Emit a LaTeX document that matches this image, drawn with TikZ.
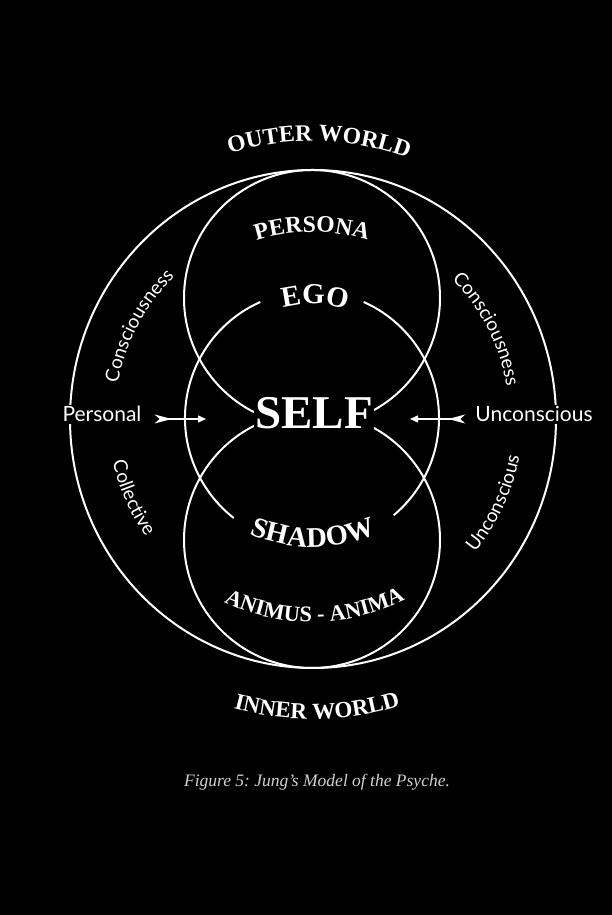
\documentclass[tikz,border=0pt]{standalone}
\usepackage{fontspec}
\setmainfont{Liberation Serif}
\newfontfamily\gillfont{Lato}
\usetikzlibrary{arrows.meta,decorations.text}
\frenchspacing

\newcommand\worldfont{\bfseries\fontsize{23.6}{23.6}\selectfont}
\newcommand\egofont{\bfseries\fontsize{29}{29}\selectfont}
\newcommand\sidefont{\gillfont\fontsize{19}{19}\selectfont}

\begin{document}
\begin{tikzpicture}[x=1pt, y=1pt,
  ring/.style={draw=white, line width=2pt},
  arctext/.style={decorate, decoration={text along path, text align=center,
    text color=white, text={#1}}},
  side/.style={fill=black, text=white, inner sep=2pt,
    font=\gillfont\fontsize{21}{21}\selectfont},
  fletch/.style={white, line width=1.4pt,
    {Stealth[reversed, length=17pt, width=9pt, inset=5pt]}-{Triangle[length=8pt, width=7pt]}}]
  \fill[black] (0,0) rectangle (612,915);
  \useasboundingbox (0,0) rectangle (612,915);

  \coordinate (hub) at (312,497);
  \coordinate (rim) at (313,496);
  \coordinate (top) at (312,617);
  \coordinate (bot) at (312,375);
  \coordinate (shadowhub) at (313,528);

  % circles
  \draw[ring] (rim) ellipse[x radius=243pt, y radius=249pt];
  \draw[ring] (top) circle[radius=128pt];
  \draw[ring] (bot) circle[radius=128pt];
  \draw[ring] ([shift={(114:127pt)}]hub) arc[start angle=114, end angle=232, radius=127pt];
  \draw[ring] ([shift={(-50:127pt)}]hub) arc[start angle=-50, end angle=66, radius=127pt];

  % curved labels
  \path[arctext={|\worldfont|OUTER WORLD}]
    ([shift={(118.5:277pt)}]hub) arc[start angle=118.5, end angle=58.5, radius=277pt];
  \path[arctext={|\worldfont|PERSONA}]
    ([shift={(120:186pt)}]hub) arc[start angle=120, end angle=60, radius=186pt];
  \path[arctext={|\egofont|EGO}]
    ([shift={(118.5:114pt)}]hub) arc[start angle=118.5, end angle=58.5, radius=114pt];
  \path[arctext={|\bfseries\fontsize{28.5}{28.5}\selectfont|SHADOW}]
    ([shift={(240:160pt)}]shadowhub) arc[start angle=240, end angle=300, radius=160pt];
  \path[arctext={|\bfseries\fontsize{22.4}{22.4}\selectfont|ANIMUS - ANIMA}]
    ([shift={(230.8:204pt)}]hub) arc[start angle=230.8, end angle=310.8, radius=204pt];
  \path[arctext={|\bfseries\fontsize{23}{23}\selectfont|INNER WORLD}]
    ([shift={(246:301pt)}]hub) arc[start angle=246, end angle=296, radius=301pt];

  \path[arctext={|\sidefont|Consciousness}]
    ([shift={(182:197pt)}]hub) arc[start angle=182, end angle=122, radius=197pt];
  \path[arctext={|\sidefont|Collective}]
    ([shift={(174:204pt)}]hub) arc[start angle=174, end angle=234, radius=204pt];
  \path[arctext={|\sidefont|Consciousness}]
    ([shift={(57:197pt)}]hub) arc[start angle=57, end angle=-3, radius=197pt];
  \path[arctext={|\sidefont|Unconscious}]
    ([shift={(-55:211pt)}]hub) arc[start angle=-55, end angle=5, radius=211pt];

  % centre and sides
  \node[fill=black, text=white, inner sep=1pt,
    font=\bfseries\fontsize{47}{47}\selectfont] (self) at (314,501.5) {SELF};
  \node[side, anchor=base] (personal) at (102,493) {Personal};
  \node[side, anchor=base] (uncon) at (534,493) {Unconscious};

  \coordinate (pHead) at (206,496);
  \coordinate (uHead) at (410,496);
  \draw[fletch, shorten <=11pt] (personal.east |- pHead) -- (pHead);
  \draw[fletch, shorten <=8pt] (uncon.west |- uHead) -- (uHead);

  \node[text=white!82!black, font=\itshape\fontsize{17.5}{17.5}\selectfont, anchor=base]
    (caption) at (317,128) {Figure 5: Jung’s Model of the Psyche.};
\end{tikzpicture}
\end{document}
